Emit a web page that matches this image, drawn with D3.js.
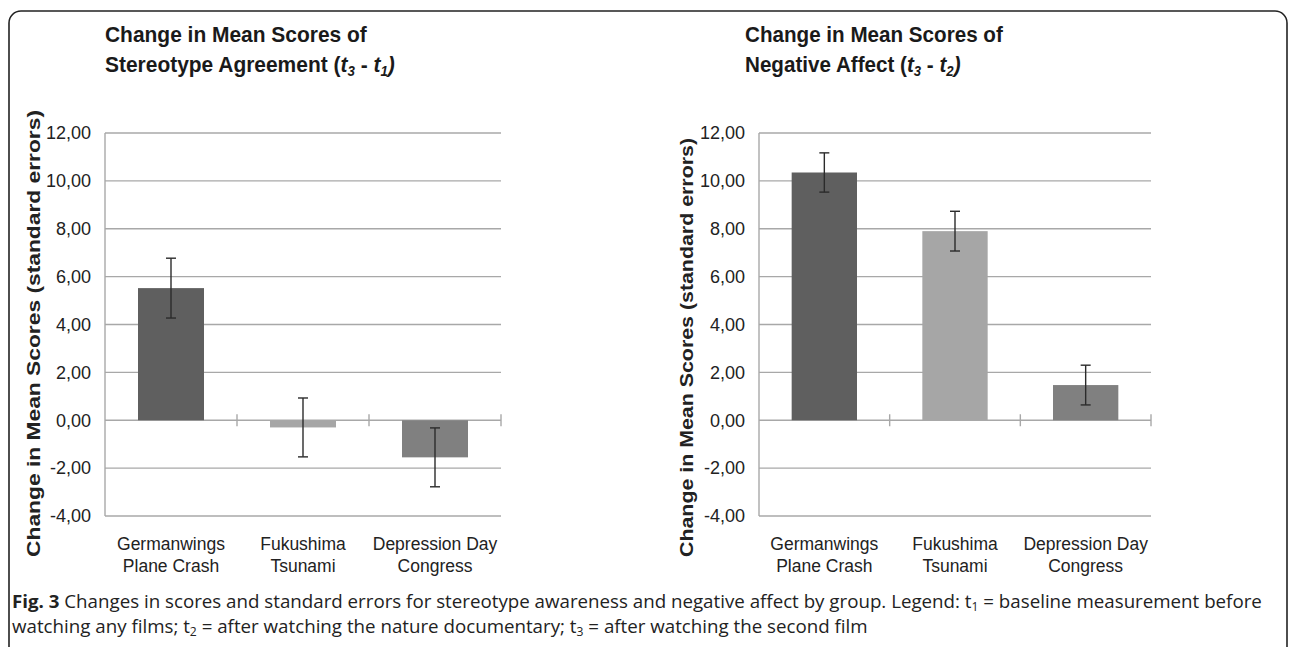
<!DOCTYPE html>
<html>
<head>
<meta charset="utf-8">
<script src="https://cdn.jsdelivr.net/npm/d3@7"></script>
<style>
  html, body { margin: 0; padding: 0; background: #fff; }
  svg { display: block; }
</style>
</head>
<body>
<svg id="fig" width="1290" height="647"></svg>
<script>
// groups shown on both panels, each label on two lines
var categories = ['Germanwings', 'Fukushima', 'Depression Day'];
var categoriesLine2 = ['Plane Crash', 'Tsunami', 'Congress'];

// left panel: stereotype agreement (t3 - t1)
var stereoMeans = [5.52, -0.30, -1.55];
var stereoErrors = [1.25, 1.23, 1.23];

// right panel: negative affect (t3 - t2)
var affectMeans = [10.35, 7.90, 1.47];
var affectErrors = [0.82, 0.83, 0.83];

var yTicks = [-4, -2, 0, 2, 4, 6, 8, 10, 12];
var barColors = ['#5f5f5f', '#a6a6a6', '#808080'];

var svg = d3.select('#fig');
var fmt = d3.formatLocale({
    decimal: ',', thousands: '.', grouping: [3], currency: ['', ''], minus: '-'
}).format('.2f');

// outer frame (bottom edge runs off the page)
svg.append('rect')
    .attr('x', 9).attr('y', 11)
    .attr('width', 1278).attr('height', 700)
    .attr('rx', 12)
    .attr('fill', 'none')
    .attr('stroke', '#222')
    .attr('stroke-width', 1.6);

// squeeze a group horizontally so that one of its lines has the given width
function fitWidth(g, node, target) {
    var w = node.getComputedTextLength();
    var x = +d3.select(node).attr('x');
    g.attr('transform', 'translate(' + x + ',0) scale(' + (target / w) + ',1) translate(' + (-x) + ',0)');
}

function drawChart(cfg) {
    var g = svg.append('g').attr('class', 'chart');

    var x = d3.scaleBand()
        .domain(categories)
        .range([cfg.left, cfg.right])
        .paddingInner(0.5)
        .paddingOuter(0.25);

    var y = d3.scaleLinear()
        .domain([-4, 12])
        .range([516, 133]);

    var step = x.step();

    // title, two lines, with italic subscripted time points
    var tg = g.append('g').attr('class', 'title')
        .style('font-family', 'Liberation Sans, Arial, sans-serif')
        .style('font-weight', 'bold')
        .style('font-size', '22px')
        .attr('fill', '#1a1a1a');
    var t1 = tg.append('text').attr('x', cfg.titleX).attr('y', 42).text('Change in Mean Scores of');
    var t2 = tg.append('text').attr('x', cfg.titleX).attr('y', 72);
    t2.append('tspan').text(cfg.titleLine2 + ' (');
    t2.append('tspan').attr('font-style', 'italic').text('t');
    t2.append('tspan').attr('font-style', 'italic').attr('font-size', '14px').attr('dy', 4).text(cfg.sub1);
    t2.append('tspan').attr('dy', -4).text(' - ');
    t2.append('tspan').attr('font-style', 'italic').text('t');
    t2.append('tspan').attr('font-style', 'italic').attr('font-size', '14px').attr('dy', 4).text(cfg.sub2);
    t2.append('tspan').attr('font-style', 'italic').attr('dy', -4).text(')');
    fitWidth(tg, t1.node(), cfg.titleW);

    // gridlines
    g.append('g').attr('class', 'grid')
        .selectAll('line')
        .data(yTicks)
        .join('line')
        .attr('x1', cfg.left).attr('x2', cfg.right)
        .attr('y1', function(d) { return y(d); })
        .attr('y2', function(d) { return y(d); })
        .attr('stroke', '#a8a8a8')
        .attr('stroke-width', 1.4);

    // vertical axis line
    g.append('line')
        .attr('x1', cfg.left).attr('x2', cfg.left)
        .attr('y1', y(12)).attr('y2', y(-4))
        .attr('stroke', '#a8a8a8')
        .attr('stroke-width', 1.4);

    // category boundary ticks on the zero line
    g.append('g').attr('class', 'xticks')
        .selectAll('line')
        .data(d3.range(1, categories.length + 1))
        .join('line')
        .attr('x1', function(i) { return cfg.left + i * step; })
        .attr('x2', function(i) { return cfg.left + i * step; })
        .attr('y1', y(0) - 6).attr('y2', y(0) + 6)
        .attr('stroke', '#a8a8a8')
        .attr('stroke-width', 1.4);

    // y tick labels
    var yAxis = g.append('g')
        .attr('transform', 'translate(' + cfg.left + ',0)')
        .call(d3.axisLeft(y).tickValues(yTicks).tickSize(0).tickPadding(14).tickFormat(fmt));
    yAxis.select('.domain').remove();
    yAxis.selectAll('text')
        .style('font-family', 'Liberation Sans, Arial, sans-serif')
        .style('font-size', '18px')
        .attr('fill', '#222');

    // bars
    var data = categories.map(function(c, i) {
        return {cat: c, mean: cfg.means[i], se: cfg.errors[i], color: barColors[i]};
    });

    g.append('g').attr('class', 'bars')
        .selectAll('rect')
        .data(data)
        .join('rect')
        .attr('x', function(d) { return x(d.cat); })
        .attr('width', x.bandwidth())
        .attr('y', function(d) { return y(Math.max(0, d.mean)); })
        .attr('height', function(d) { return Math.abs(y(d.mean) - y(0)); })
        .attr('fill', function(d) { return d.color; });

    // error bars
    var eb = g.append('g').attr('class', 'errors')
        .selectAll('g')
        .data(data)
        .join('g')
        .attr('stroke', '#2b2b2b')
        .attr('stroke-width', 1.4);
    eb.append('line')
        .attr('x1', function(d) { return x(d.cat) + x.bandwidth() / 2; })
        .attr('x2', function(d) { return x(d.cat) + x.bandwidth() / 2; })
        .attr('y1', function(d) { return y(d.mean + d.se); })
        .attr('y2', function(d) { return y(d.mean - d.se); });
    [1, -1].forEach(function(sign) {
        eb.append('line')
            .attr('x1', function(d) { return x(d.cat) + x.bandwidth() / 2 - 5; })
            .attr('x2', function(d) { return x(d.cat) + x.bandwidth() / 2 + 5; })
            .attr('y1', function(d) { return y(d.mean + sign * d.se); })
            .attr('y2', function(d) { return y(d.mean + sign * d.se); });
    });

    // category labels
    var xl = g.append('g').attr('class', 'xlabels')
        .style('font-family', 'Liberation Sans, Arial, sans-serif')
        .style('font-size', '17.5px')
        .attr('fill', '#222')
        .attr('text-anchor', 'middle');
    xl.selectAll('text.l1')
        .data(categories)
        .join('text').attr('class', 'l1')
        .attr('x', function(d) { return x(d) + x.bandwidth() / 2; })
        .attr('y', 550)
        .text(function(d) { return d; });
    xl.selectAll('text.l2')
        .data(categoriesLine2)
        .join('text').attr('class', 'l2')
        .attr('x', function(d, i) { return x(categories[i]) + x.bandwidth() / 2; })
        .attr('y', 572)
        .text(function(d) { return d; });

    // y axis title
    var ytLen = cfg.ytBottom - cfg.ytTop;
    g.append('text')
        .attr('transform', 'translate(' + cfg.ytX + ',' + ((cfg.ytTop + cfg.ytBottom) / 2) + ') rotate(-90)')
        .attr('text-anchor', 'middle')
        .attr('dy', '0.35em')
        .attr('textLength', ytLen)
        .attr('lengthAdjust', 'spacingAndGlyphs')
        .style('font-family', 'Liberation Sans, Arial, sans-serif')
        .style('font-weight', 'bold')
        .style('font-size', '18px')
        .attr('fill', '#222')
        .text('Change in Mean Scores (standard errors)');
}

drawChart({
    left: 105, right: 501,
    means: stereoMeans, errors: stereoErrors,
    titleX: 105, titleW: 262, titleLine2: 'Stereotype Agreement', sub1: '3', sub2: '1',
    ytX: 34, ytTop: 110, ytBottom: 557
});

drawChart({
    left: 759, right: 1151,
    means: affectMeans, errors: affectErrors,
    titleX: 745, titleW: 258, titleLine2: 'Negative Affect', sub1: '3', sub2: '2',
    ytX: 687, ytTop: 138, ytBottom: 557
});

// caption
var cap = svg.append('g').attr('class', 'caption')
    .style('font-family', 'Open Sans, Noto Sans, sans-serif')
    .style('font-size', '18.5px')
    .attr('fill', '#222');
var c1 = cap.append('text').attr('x', 12).attr('y', 608);
c1.append('tspan').attr('font-weight', 'bold').text('Fig. 3');
c1.append('tspan').text(' Changes in scores and standard errors for stereotype awareness and negative affect by group. Legend: t');
c1.append('tspan').attr('font-size', '12px').attr('dy', 3).text('1');
c1.append('tspan').attr('dy', -3).text(' = baseline measurement before');
var c2 = cap.append('text').attr('x', 12).attr('y', 633);
c2.append('tspan').text('watching any films; t');
c2.append('tspan').attr('font-size', '12px').attr('dy', 3).text('2');
c2.append('tspan').attr('dy', -3).text(' = after watching the nature documentary; t');
c2.append('tspan').attr('font-size', '12px').attr('dy', 3).text('3');
c2.append('tspan').attr('dy', -3).text(' = after watching the second film');
fitWidth(cap, c1.node(), 1250);
</script>
</body>
</html>
